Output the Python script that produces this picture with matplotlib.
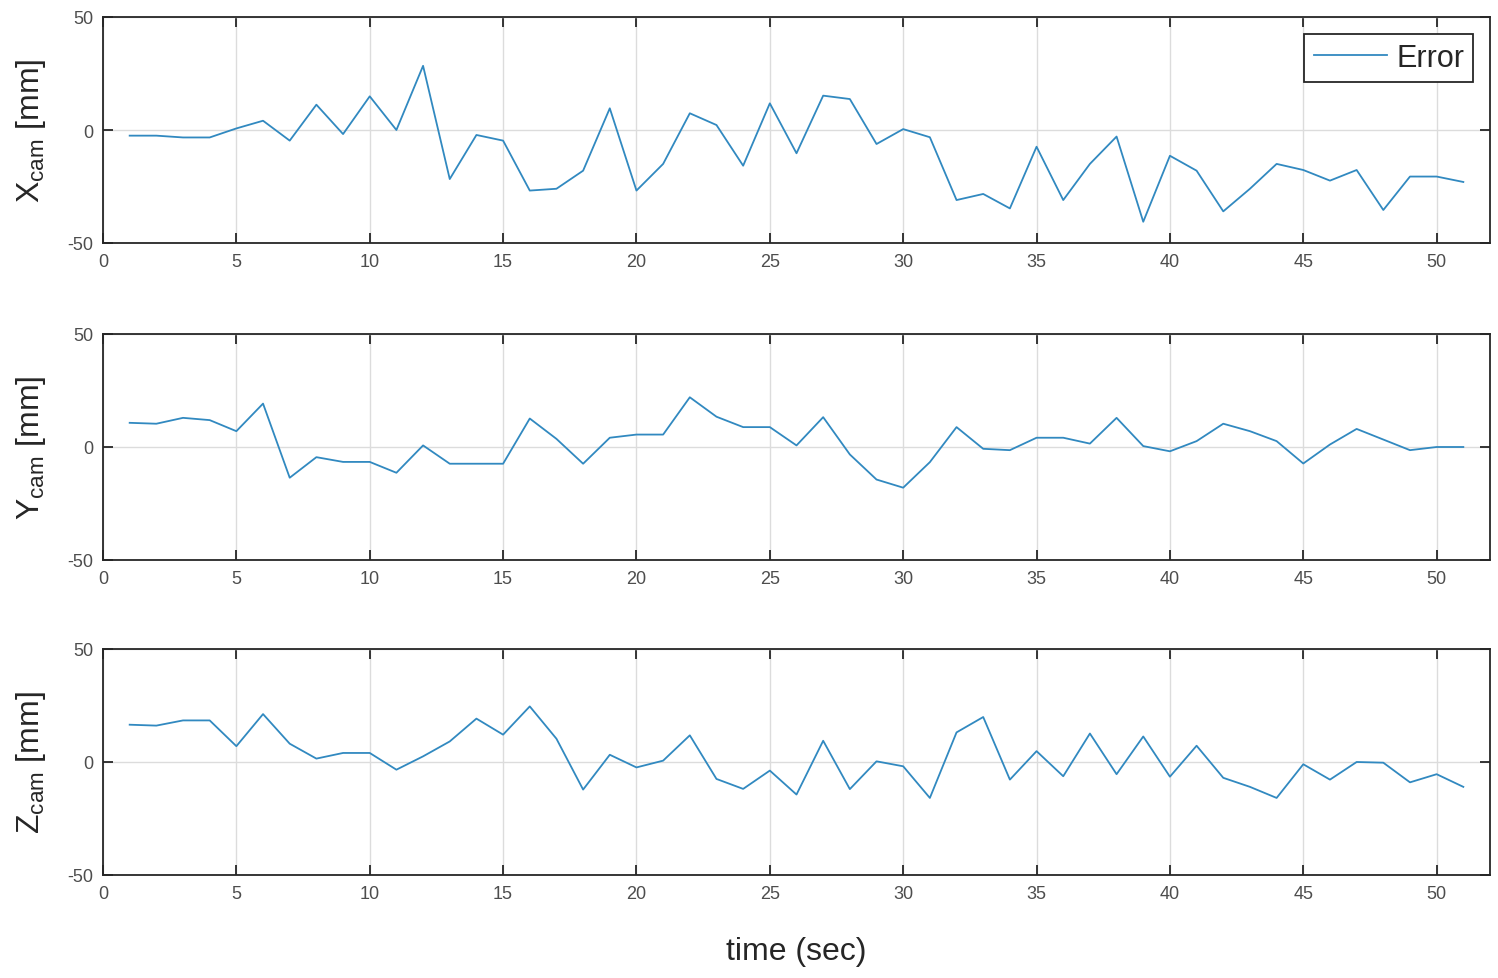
import numpy as np
import matplotlib.pyplot as plt

# time samples (sec)
t = np.arange(1, 52)

# camera-frame position error (mm)
x_err = [-2.5, -2.5, -3.3, -3.3, 0.7, 4.1, -4.7, 11.2, -1.8, 14.9,
         0.0, 28.4, -21.7, -2.2, -4.7, -26.8, -26.0, -18.0, 9.6, -26.8,
         -15.0, 7.4, 2.2, -15.8, 11.8, -10.3, 15.2, 13.7, -6.2, 0.4,
         -3.2, -31.0, -28.3, -34.7, -7.4, -31.0, -15.0, -2.9, -40.6, -11.4,
         -18.0, -36.0, -26.0, -15.0, -17.7, -22.4, -17.7, -35.4, -20.6, -20.6,
         -23.0]
y_err = [10.7, 10.3, 12.9, 11.9, 7.0, 19.2, -13.6, -4.5, -6.6, -6.6,
         -11.4, 0.7, -7.4, -7.4, -7.4, 12.6, 3.6, -7.4, 4.1, 5.5,
         5.5, 22.0, 13.4, 8.8, 8.8, 0.7, 13.2, -3.3, -14.4, -18.0,
         -6.7, 8.8, -0.8, -1.4, 4.1, 4.1, 1.5, 12.9, 0.4, -1.9,
         2.6, 10.3, 7.0, 2.6, -7.3, 1.1, 8.0, 3.3, -1.4, 0.0,
         0.0]
z_err = [16.5, 16.1, 18.4, 18.4, 7.0, 21.2, 8.1, 1.5, 4.0, 4.0,
         -3.4, 2.5, 9.1, 19.2, 12.1, 24.6, 10.3, -12.2, 3.2, -2.4,
         0.6, 11.8, -7.5, -11.9, -3.8, -14.4, 9.4, -12.0, 0.3, -1.9,
         -15.9, 13.1, 19.9, -7.8, 4.8, -6.3, 12.6, -5.4, 11.3, -6.5,
         7.2, -7.0, -11.0, -15.9, -1.0, -7.8, 0.0, -0.3, -9.0, -5.4,
         -11.0]

ylabels = [r"X$_{\rm cam}$ [mm]", r"Y$_{\rm cam}$ [mm]", r"Z$_{\rm cam}$ [mm]"]
series = [x_err, y_err, z_err]

plt.rcParams['font.family'] = ['Liberation Sans', 'DejaVu Sans']
plt.rcParams['mathtext.fontset'] = 'custom'
plt.rcParams['mathtext.rm'] = 'Liberation Sans'
plt.rcParams['axes.unicode_minus'] = False

fig = plt.figure(figsize=(14.98, 9.79), dpi=100)

# axes boxes in pixels: (top, bottom)
boxes = [(18, 244), (335, 561), (650, 876)]
W, H = 1498, 979
left, right = 103, 1490

line_color = '#3189c0'
frame_color = '#262626'
tick_color = '#4d4d4d'

for i, (top, bot) in enumerate(boxes):
    ax = fig.add_axes([left / W, 1 - bot / H, (right - left) / W, (bot - top) / H])
    ax.plot(t, series[i], color=line_color, lw=1.3, label='Error')
    ax.set_xlim(0, 52)
    ax.set_ylim(-50, 50)
    ax.set_xticks(range(0, 51, 5))
    ax.set_yticks([-50, 0, 50])
    ax.grid(True, color='#dcdcdc', lw=1.0)
    ax.tick_params(direction='in', top=True, right=True, length=7, width=1.3,
                   labelsize=13, color=frame_color, labelcolor=tick_color, pad=7)
    for s in ax.spines.values():
        s.set_color(frame_color)
        s.set_linewidth(1.3)
    ax.set_ylabel(ylabels[i], fontsize=23, color=frame_color)
    ax.yaxis.set_label_coords((48 - left) / (right - left), 0.5)
    if i == 0:
        leg = ax.legend(loc='upper right', fontsize=22, frameon=True, fancybox=False,
                        handlelength=2.4, borderpad=0.3, handletextpad=0.3,
                        borderaxespad=0.55)
        leg.get_frame().set_edgecolor(frame_color)
        leg.get_frame().set_linewidth(1.3)
        leg.get_frame().set_alpha(1)
        for txt in leg.get_texts():
            txt.set_color(frame_color)

fig.text((left + right) / 2 / W, 1 - 952 / H, 'time (sec)', fontsize=23,
         color=frame_color, ha='center', va='center')

fig.savefig('out.png', dpi=100, facecolor='white')
